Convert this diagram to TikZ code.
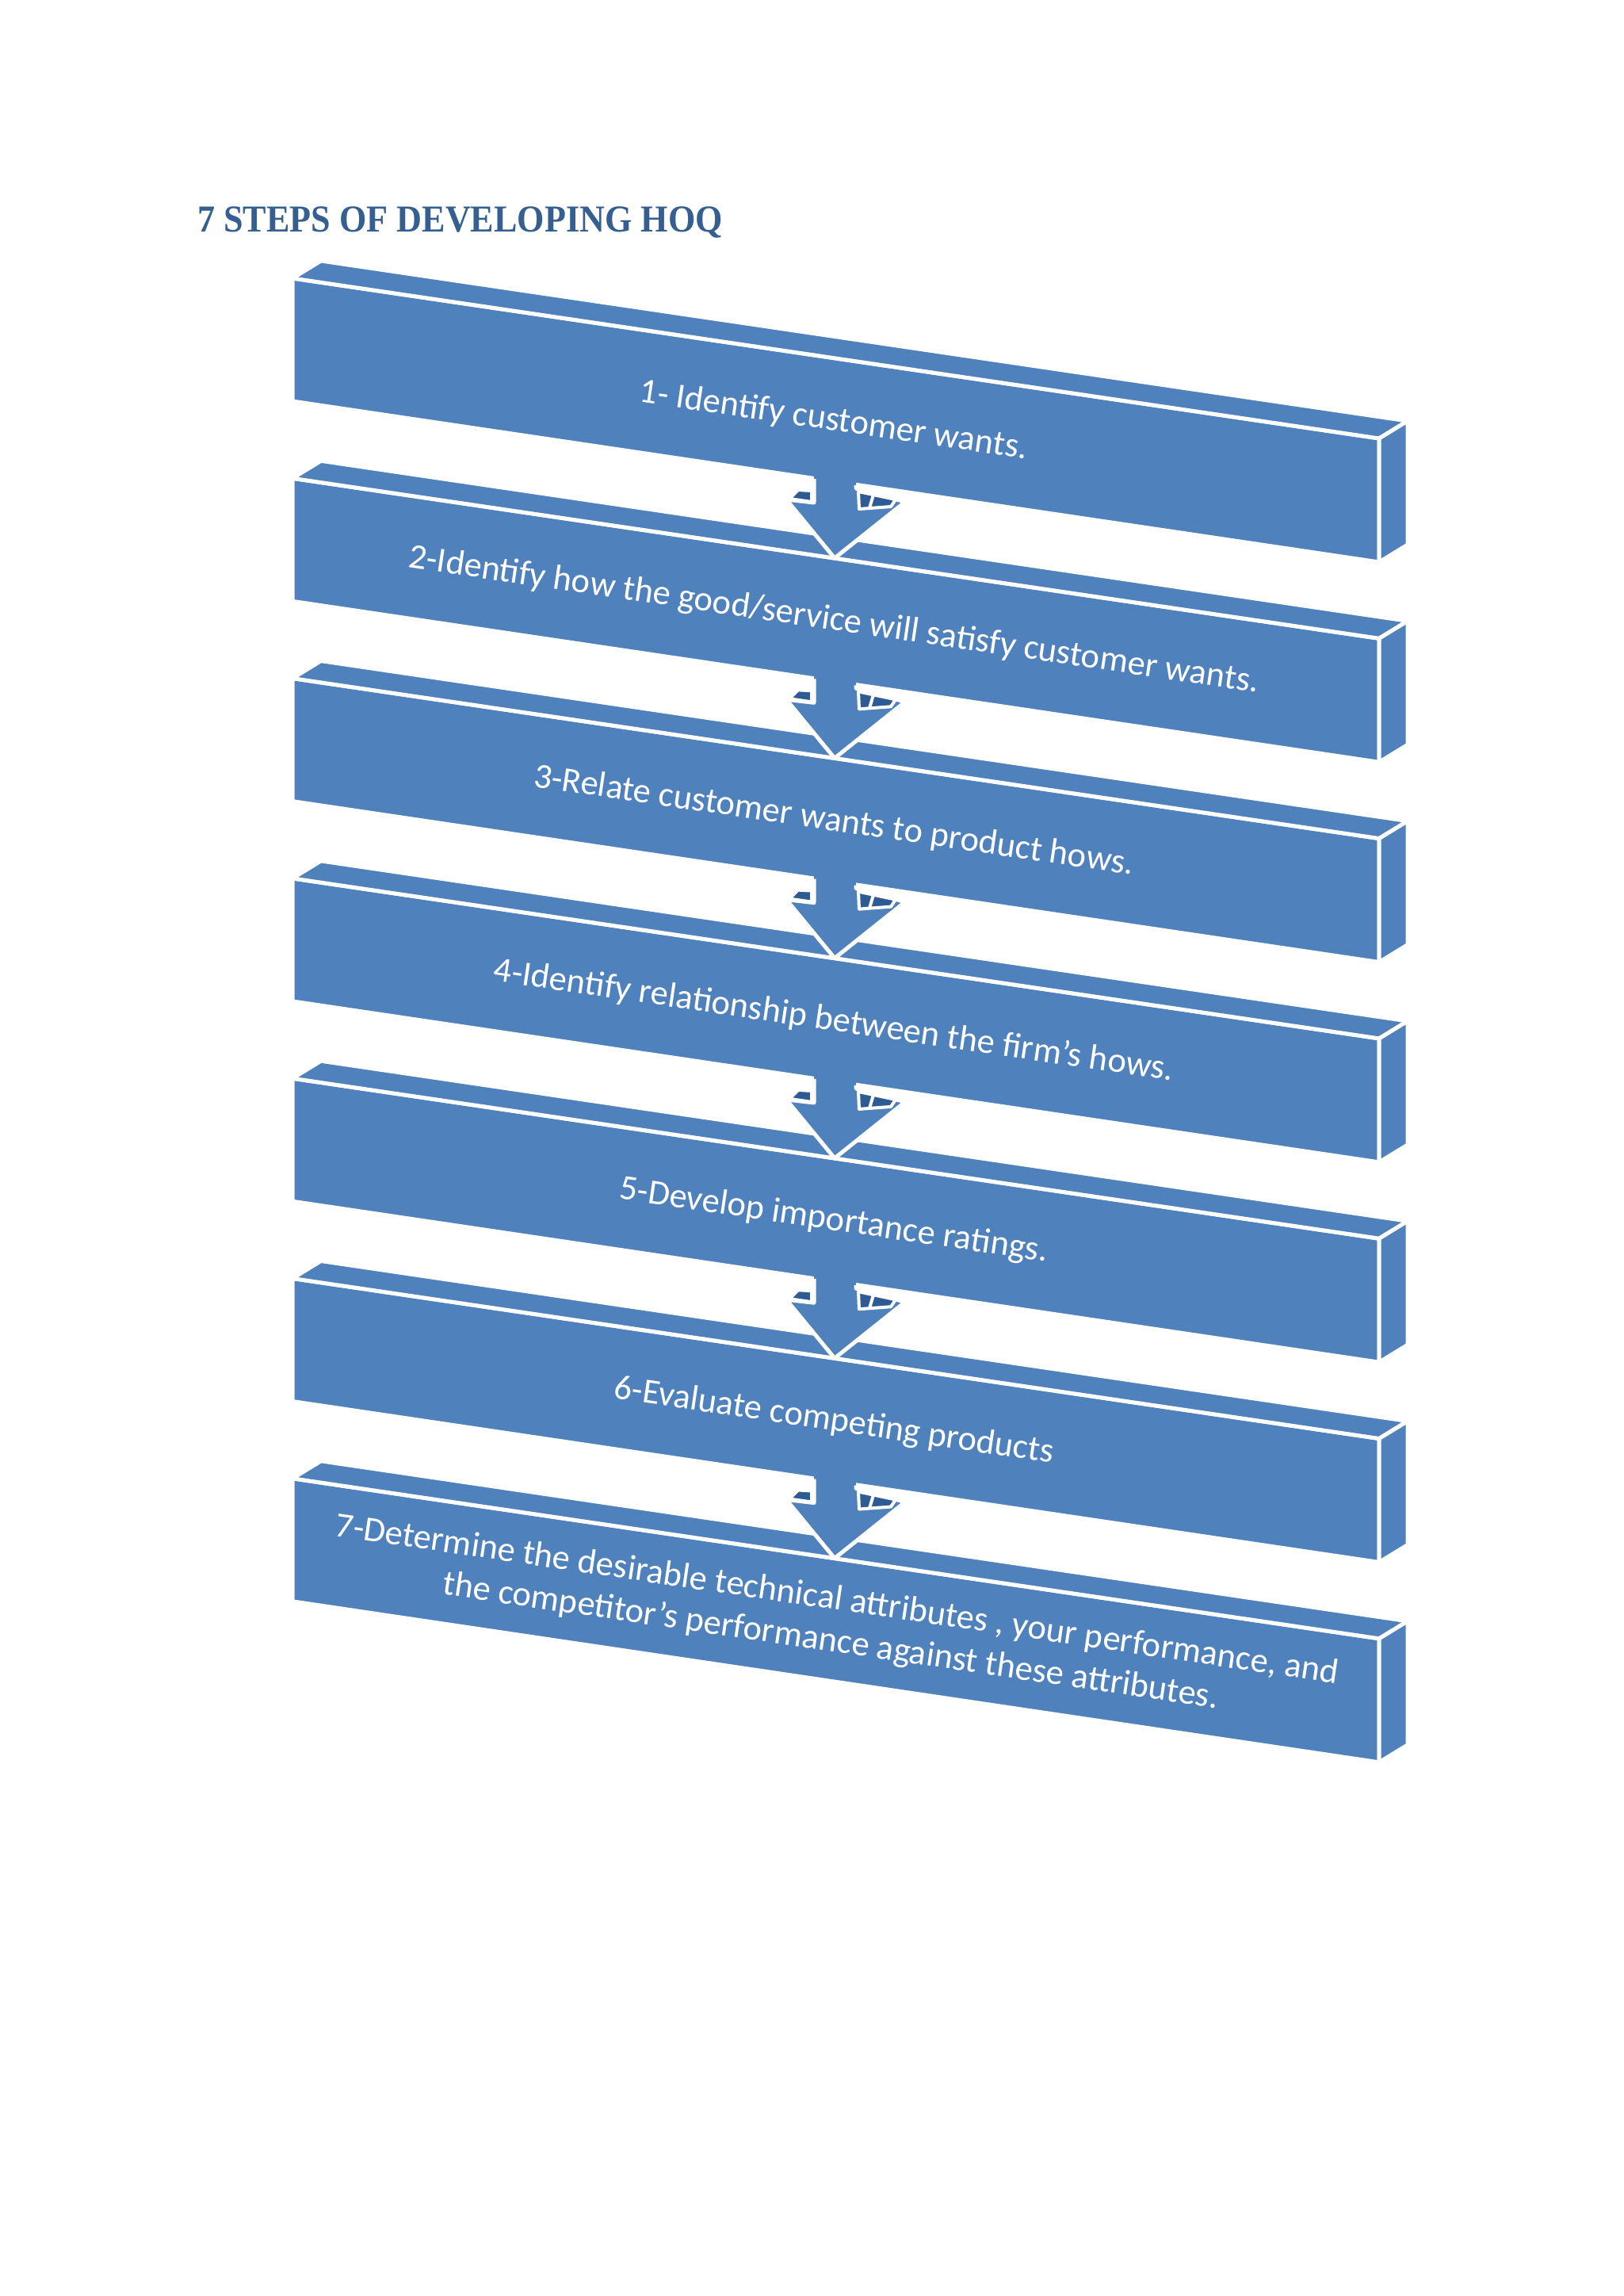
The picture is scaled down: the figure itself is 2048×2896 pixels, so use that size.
\documentclass[tikz,border=0pt]{standalone}
\usepackage{fontspec}
\setmainfont{Carlito}
\newfontfamily\titlefont{Liberation Serif}
\definecolor{boxblue}{HTML}{4F81BD}
\definecolor{darkblue}{HTML}{2E5B93}
\definecolor{titleblue}{HTML}{365F91}
\begin{document}
\begin{tikzpicture}[x=1pt,y=-1pt,
  face/.style={fill=boxblue,draw=white,line width=5pt,line join=round},
  outline/.style={draw=white,line width=5pt,line join=round},
  patch/.style={fill=darkblue,draw=white,line width=4pt,line join=round},
  steptext/.style={text=white,font=\fontsize{44.5}{53}\selectfont,align=center,inner sep=0pt,rotate=-8.38}]
\fill[white] (0,0) rectangle (2048,2896);
\useasboundingbox (0,0) rectangle (2048,2896);
\node[anchor=base west,font=\titlefont\bfseries\fontsize{48}{56}\selectfont,text=titleblue,xscale=0.92,inner sep=0pt] (title) at (249,292) {7 STEPS OF DEVELOPING HOQ};
% boxes
\foreach \k in {0,...,6}{
  \pgfmathsetmacro\dy{252.3*\k}
  \begin{scope}[shift={(0,\dy)}]
    \draw[face] (369,351) -- (1740,553) -- (1740,709) -- (369,506) -- cycle;
    \draw[face] (369,351) -- (405,329) -- (1776,531) -- (1740,553) -- cycle;
    \draw[face] (1740,553) -- (1776,531) -- (1776,687) -- (1740,709) -- cycle;
  \end{scope}
}
% arrows
\foreach \k in {0,...,5}{
  \pgfmathsetmacro\dy{252.3*\k}
  \begin{scope}[shift={(0,\dy)}]
    \fill[boxblue] (1027,590) -- (1027,634) -- (992,630) -- (1053,704) -- (1142,633) -- (1080,616) -- (1080,590) -- cycle;
    \draw[outline] (1027,604) -- (1027,634) -- (992,630) -- (1053,704) -- (1142,633) -- (1080,616) -- (1080,612);
    \draw[patch] (1083,620) -- (1130,630) -- (1124,639) -- (1084,642) -- cycle;
    \draw[white,line width=4pt] (1102,624) -- (1097,641);
    \draw[patch] (996,629) -- (1007,618) -- (1024,619) -- (1024,633) -- cycle;
  \end{scope}
}
% texts
\node[steptext] (t1) at (1052,531) {1- Identify customer wants.};
\node[steptext] (t2) at (1052,783) {2-Identify how the good/service will satisfy customer wants.};
\node[steptext] (t3) at (1052,1036) {3-Relate customer wants to product hows.};
\node[steptext] (t4) at (1052,1288) {4-Identify relationship between the firm's hows.};
\node[steptext] (t5) at (1052,1540) {5-Develop importance ratings.};
\node[steptext] (t6) at (1052,1793) {6-Evaluate competing products};
\node[steptext] (t7) at (1052,2045) {7-Determine the desirable technical attributes , your performance, and\\the competitor's performance against these attributes.};
\end{tikzpicture}
\end{document}
